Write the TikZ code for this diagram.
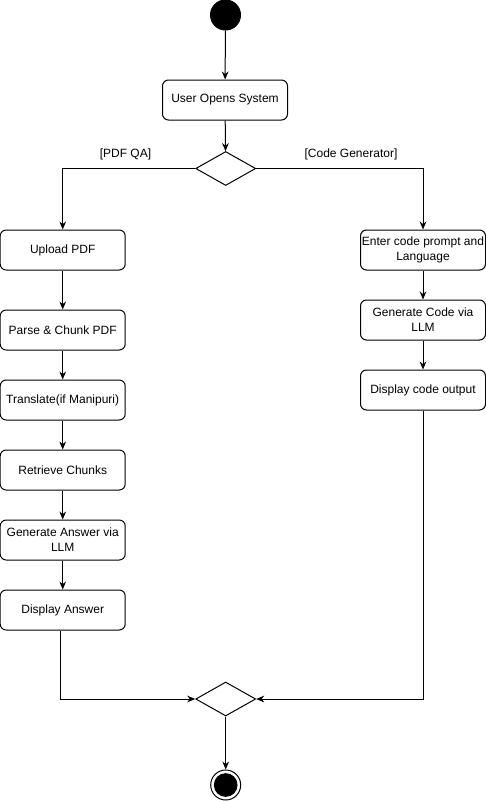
\documentclass[tikz,border=0pt]{standalone}
\usepackage{fontspec}
\setmainfont{Liberation Sans}
\usetikzlibrary{shapes.geometric,arrows.meta}

\tikzset{every picture/.style={line width=0.75pt}}

\begin{document}
\begin{tikzpicture}[x=0.75pt,y=0.75pt,yscale=-1,xscale=1,
  >={Stealth[length=6pt,width=5pt]},
  actbox/.style={draw,rounded corners=4.5pt,minimum width=93.75pt,minimum height=30pt,
    inner sep=0.75pt,align=center,font=\fontsize{9}{11.25}\selectfont},
  choice/.style={draw,diamond,aspect=1.76,minimum width=45pt,minimum height=25.5pt,inner sep=0pt},
  startdot/.style={circle,fill=black,draw,minimum size=22.5pt,inner sep=0pt},
  guard/.style={inner sep=0.75pt,font=\fontsize{9}{11.25}\selectfont}]
\useasboundingbox (0,0) rectangle (486,801);

% Start
\node [startdot] (start) at (225.5,15) {};
\node [actbox] (open) at (225,100) {User Opens System};
\node [choice] (split) at (225.7,168.5) {};

% Guards
\node [guard] (lblPdf) at (125.5,154) {[PDF QA]};
\node [guard] (lblCode) at (351,154) {[Code Generator]};

% PDF QA branch
\node [actbox] (upload) at (62.7,250) {Upload PDF};
\node [actbox] (parse) at (62.7,330) {Parse \& Chunk PDF};
\node [actbox] (trans) at (62.7,400) {Translate(if Manipuri)};
\node [actbox] (retr) at (62.7,470) {Retrieve Chunks};
\node [actbox] (genAns) at (62.7,540) {Generate Answer via\\LLM};
\node [actbox] (dispAns) at (62.7,610) {Display Answer};

% Code Generator branch
\node [actbox] (enter) at (423,250) {Enter code prompt and\\Language};
\node [actbox] (genCode) at (423,320) {Generate Code via\\LLM};
\node [actbox] (dispCode) at (423,390) {Display code output};

% Merge and end
\node [choice] (merge) at (225.7,699) {};
\node [circle,draw,fill=white,minimum size=22.5pt,inner sep=0pt] (finish) at (225.7,785) {};
\node [startdot,minimum size=17pt] (finishIn) at (finish) {};

% Flows
\draw [->] (start) -- (open);
\draw [->] (open) -- (split);
\draw [->] (split.west) -| (upload.north);
\draw [->] (split.east) -| (enter.north);
\draw [->] (upload) -- (parse);
\draw [->] (parse) -- (trans);
\draw [->] (trans) -- (retr);
\draw [->] (retr) -- (genAns);
\draw [->] (genAns) -- (dispAns);
\draw [->] (enter) -- (genCode);
\draw [->] (genCode) -- (dispCode);
\draw [->] ([xshift=-2pt]dispAns.south) |- (merge.west);
\draw [->] (dispCode.south) |- (merge.east);
\draw [->] (merge) -- (finish);

\end{tikzpicture}
\end{document}
